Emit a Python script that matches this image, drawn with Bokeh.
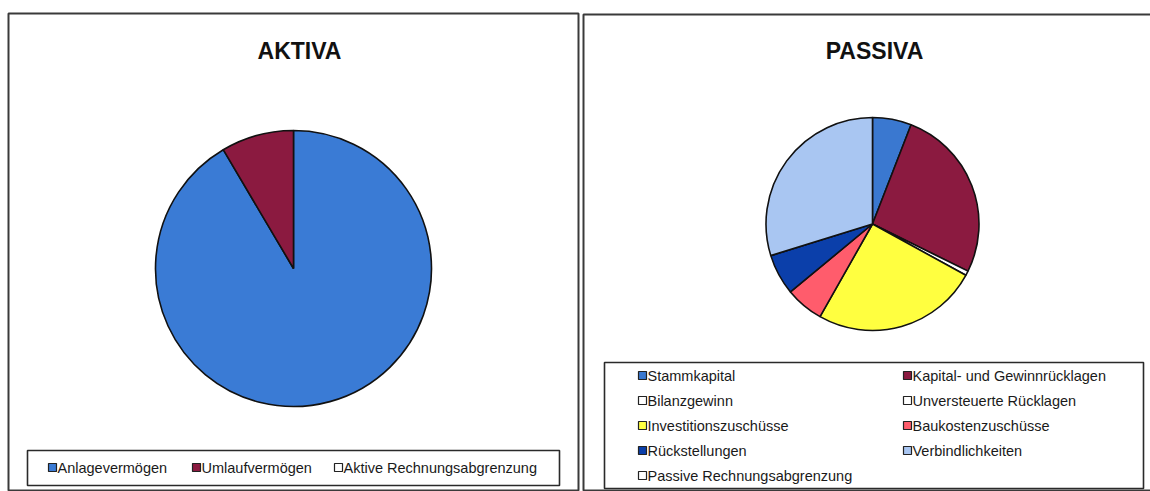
import numpy as np
from bokeh.plotting import figure
from bokeh.models import Range1d
from bokeh.core.properties import value
from bokeh.embed import file_html
from bokeh.resources import INLINE

# --- balance sheet structure (shares in percent) ---
aktiva_labels = ["Anlagevermögen", "Umlaufvermögen", "Aktive Rechnungsabgrenzung"]
aktiva_values = [91.5, 8.5, 0.0]
aktiva_colors = ["#3A7BD5", "#8B1A40", "#FFFFFF"]

passiva_labels = [
    "Stammkapital",
    "Kapital- und Gewinnrücklagen",
    "Bilanzgewinn",
    "Unversteuerte Rücklagen",
    "Investitionszuschüsse",
    "Baukostenzuschüsse",
    "Rückstellungen",
    "Verbindlichkeiten",
    "Passive Rechnungsabgrenzung",
]
passiva_values = [5.9, 26.4, 0.7, 0.0, 25.2, 5.8, 6.2, 29.8, 0.0]
passiva_colors = ["#3A78D0", "#8B1A40", "#FFFFFF", "#FFFFFF", "#FFFF40",
                  "#FF5C6C", "#0B3FAA", "#A9C6F2", "#FFFFFF"]

W, H = 1150, 491
FONT = "Liberation Sans"


def Y(top):
    """Convert a distance from the top edge into the figure's y coordinate."""
    return H - top


p = figure(width=W, height=H, x_range=Range1d(0, W), y_range=Range1d(0, H),
           x_axis_type=None, y_axis_type=None, output_backend="svg",
           toolbar_location=None, min_border=0, outline_line_color=None,
           background_fill_color="white", border_fill_color="white")
p.grid.visible = False

# chart area frames
p.quad(left=[8, 583], right=[578, 1165], top=[Y(13), Y(14)], bottom=[Y(490), Y(490)],
       fill_color=None, line_color="#3a3a3a", line_width=2)


def pie(cx, cy, r, values, colors):
    vals = np.asarray(values, dtype=float)
    frac = vals / vals.sum()
    ends = np.cumsum(frac)
    starts = ends - frac
    keep = frac > 0
    # clockwise from twelve o'clock
    start_ang = np.pi / 2 - 2 * np.pi * starts[keep]
    end_ang = np.pi / 2 - 2 * np.pi * ends[keep]
    p.wedge(x=cx, y=cy, radius=r, start_angle=start_ang, end_angle=end_ang,
            direction="clock", fill_color=list(np.asarray(colors)[keep]),
            line_color="#111111", line_width=1.6)


pie(293, Y(268), 138, aktiva_values, aktiva_colors)
pie(872, Y(223.5), 106.5, passiva_values, passiva_colors)

# titles
p.text(x=[299, 874], y=[Y(50), Y(50)], text=["AKTIVA", "PASSIVA"],
       text_font=value(FONT), text_font_style="bold", text_font_size="23px",
       text_align="center", text_baseline="middle", text_color="#111111")

# legend frames
p.quad(left=[27, 604], right=[559, 1143], top=[Y(450), Y(362)], bottom=[Y(485), Y(488)],
       fill_color="white", line_color="#2a2a2a", line_width=1.6)


def legend(xs, ys, labels, colors):
    p.rect(x=[x - 5 for x in xs], y=ys, width=8, height=8, width_units="screen",
           height_units="screen", fill_color=colors, line_color="#222222", line_width=1.2)
    p.text(x=xs, y=ys, text=labels, text_font=value(FONT), text_font_size="14.5px",
           text_align="left", text_baseline="middle", text_color="#1a1a1a")


# one row of entries below the left chart
legend([57, 201, 343], [Y(467)] * 3, aktiva_labels, aktiva_colors)

# two columns, filled row by row, below the right chart
col_x = [647, 912]
px = [col_x[i % 2] for i in range(len(passiva_labels))]
py = [Y(375 + 25 * (i // 2)) for i in range(len(passiva_labels))]
legend(px, py, passiva_labels, passiva_colors)

open("out.html", "w").write(file_html(p, INLINE))
